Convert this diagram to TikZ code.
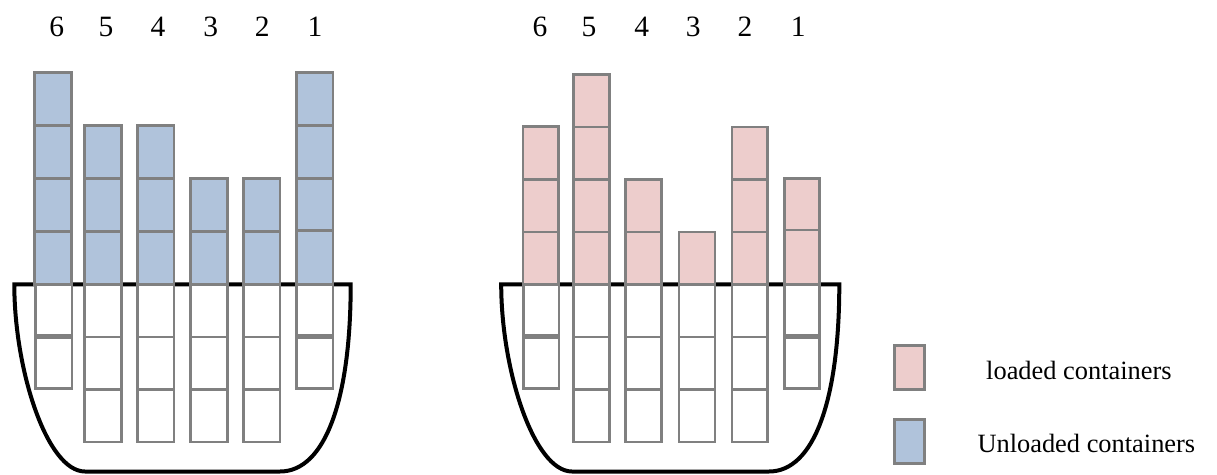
\documentclass[tikz,border=0pt]{standalone}
\usepackage{fontspec}
\setmainfont{Liberation Serif}
\definecolor{cgray}{RGB}{128,128,128}
\definecolor{cblue}{RGB}{176,195,219}
\definecolor{cpink}{RGB}{237,205,204}
\newcommand\cstack[4]{%
  \foreach \ya/\yb in {#4} {\draw[box,fill=#3] (#1,\ya) rectangle (#2,\yb);}}
\begin{document}
\begin{tikzpicture}[x=1pt,y=-1pt,
  box/.style={draw=cgray,line width=2.7pt},
  hull/.style={draw=black,line width=4pt},
  num/.style={font=\fontsize{29.5}{32}\selectfont,anchor=base,inner sep=0pt},
  legtext/.style={font=\fontsize{26.4}{30}\selectfont,anchor=base west,inner sep=0pt}]
\useasboundingbox (0,0) rectangle (1217,474);

% ---------- left ship ----------
\draw[hull] (14.3,284.3) -- (350.7,284.3) .. controls (350.7,400) and (325,471.5) .. (280,471.5)
  -- (85,471.5) .. controls (47,471.5) and (14.3,370) .. cycle;
% lower (white) boxes
\cstack{35.5}{72}{white}{284.5/335.5,337.5/388.5}
\cstack{84.7}{121.3}{white}{284.5/337,337/389.5,389.5/442}
\cstack{137.3}{174}{white}{284.5/337,337/389.5,389.5/442}
\cstack{190.7}{227.3}{white}{284.5/337,337/389.5,389.5/442}
\cstack{243.3}{280}{white}{284.5/337,337/389.5,389.5/442}
\cstack{296.3}{333}{white}{284.5/335.5,337.5/388.5}
% upper (unloaded) boxes
\cstack{34.7}{71.3}{cblue}{72.5/125.5,125.5/178.5,178.5/231.5,231.5/284.5}
\cstack{84.7}{121.3}{cblue}{125.5/178.5,178.5/231.5,231.5/284.5}
\cstack{137.3}{174}{cblue}{125.5/178.5,178.5/231.5,231.5/284.5}
\cstack{190.7}{227.3}{cblue}{178.5/231.5,231.5/284.5}
\cstack{243.3}{280}{cblue}{178.5/231.5,231.5/284.5}
\cstack{296.3}{333}{cblue}{72.5/125.5,125.5/178.5,178.5/230.7,230.7/284.5}

\node[num] (L6) at (56.7,36.5) {6};
\node[num] (L5) at (106,36.5) {5};
\node[num] (L4) at (158,36.5) {4};
\node[num] (L3) at (210.7,36.5) {3};
\node[num] (L2) at (262.3,36.5) {2};
\node[num] (L1) at (315,36.5) {1};

% ---------- right ship ----------
\draw[hull] (501.2,284.3) -- (839.3,284.3) .. controls (839.3,400) and (814,471.5) .. (769,471.5)
  -- (572,471.5) .. controls (534,471.5) and (501.2,370) .. cycle;
\cstack{523.5}{559}{white}{284.5/335.5,337.5/388.5}
\cstack{573.7}{609.3}{white}{284.5/337,337/389.5,389.5/442}
\cstack{625.7}{661.7}{white}{284.5/337,337/389.5,389.5/442}
\cstack{679}{715}{white}{284.5/337,337/389.5,389.5/442}
\cstack{732}{767.3}{white}{284.5/337,337/389.5,389.5/442}
\cstack{784.7}{819.3}{white}{284.5/335.5,337.5/388.5}
% upper (loaded) boxes
\cstack{523}{558.7}{cpink}{126.5/179.5,179.5/232,232/284.5}
\cstack{573.7}{609.3}{cpink}{74.5/127,127/179.5,179.5/232,232/284.5}
\cstack{625.7}{661.7}{cpink}{179.5/232,232/284.5}
\cstack{679}{715}{cpink}{232/284.5}
\cstack{732}{767.3}{cpink}{127/179.5,179.5/232,232/284.5}
\cstack{784.7}{819.3}{cpink}{178.7/230,230/284.5}

\node[num] (R6) at (540,36.5) {6};
\node[num] (R5) at (589,36.5) {5};
\node[num] (R4) at (641.7,36.5) {4};
\node[num] (R3) at (693.3,36.5) {3};
\node[num] (R2) at (745,36.5) {2};
\node[num] (R1) at (798.3,36.5) {1};

% ---------- legend ----------
\draw[box,line width=3pt,fill=cpink] (894,345.6) rectangle (924.4,389.4);
\draw[box,line width=3pt,fill=cblue] (894,419.6) rectangle (924.4,463);
\node[legtext] (legL) at (986,379.3) {loaded containers};
\node[legtext] (legU) at (977.3,452.7) {Unloaded containers};
\end{tikzpicture}
\end{document}
